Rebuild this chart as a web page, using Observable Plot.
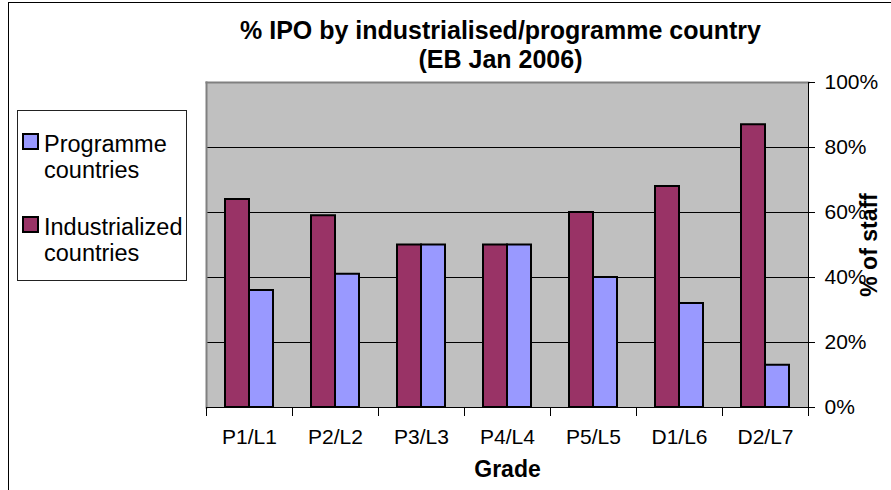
<!DOCTYPE html>
<html>
<head>
<meta charset="utf-8">
<script src="https://cdn.jsdelivr.net/npm/d3@7"></script>
<script src="https://cdn.jsdelivr.net/npm/@observablehq/plot@0.6"></script>
<style>
  html, body { margin: 0; padding: 0; background: #fff; overflow: hidden; }
  #wrap { position: relative; width: 891px; height: 490px; font-family: "Liberation Sans", Arial, sans-serif; }
  #wrap svg { position: absolute; left: 0; top: 0; }
  #border { position: absolute; left: 8px; top: 2px; width: 1000px; height: 1000px; border: 1px solid #000; pointer-events: none; }
  #legend { position: absolute; left: 17px; top: 110px; width: 168px; height: 169px; border: 1px solid #222; background: #fff;
            box-sizing: content-box; font-size: 23.5px; line-height: 26px; color: #000; }
  .item { position: relative; padding-left: 26px; width: 142px; }
  .item + .item { margin-top: 31px; }
  .item:first-child { margin-top: 20px; }
  .sw { position: absolute; left: 4px; top: 2px; width: 13px; height: 13px; border: 2px solid #000; }
</style>
</head>
<body>
<div id="wrap">
  <div id="chart"></div>
  <div id="border"></div>
  <div id="legend"></div>
</div>
<script>
const grades = ["P1/L1", "P2/L2", "P3/L3", "P4/L4", "P5/L5", "D1/L6", "D2/L7"];
const industrialized = [64, 59, 50, 50, 60, 68, 87];
const programme = [36, 41, 50, 50, 40, 32, 13];
const seriesNames = ["Industrialized countries", "Programme countries"];
const seriesColors = ["#993366", "#9999FF"];
const legendOrder = ["Programme countries", "Industrialized countries"];
const yTicks = [0, 20, 40, 60, 80, 100];
const gridTicks = [20, 40, 60, 80];
const titleText = "% IPO by industrialised/programme country\n(EB Jan 2006)";
const xTitle = "Grade";
const yTitle = "% of staff";

const data = grades.flatMap((g, i) => [
  {grade: g, series: seriesNames[0], value: industrialized[i]},
  {grade: g, series: seriesNames[1], value: programme[i]}
]);

const W = 891, H = 490, mt = 82, mb = 83, ml = 203, mr = 80;
const plotH = H - mt - mb;

const chart = Plot.plot({
  width: W, height: H,
  marginTop: mt, marginBottom: mb, marginLeft: ml, marginRight: mr,
  style: {fontFamily: '"Liberation Sans", Arial, sans-serif', fontSize: "21px", color: "#000", background: "transparent", overflow: "visible"},
  fx: {domain: grades, padding: 0, label: null},
  x: {domain: seriesNames, paddingInner: 0, paddingOuter: 0.75, axis: null},
  y: {domain: [0, 100], axis: null},
  color: {domain: seriesNames, range: seriesColors},
  marks: [
    Plot.frame({facet: "super", fill: "#C0C0C0", stroke: null}),
    Plot.gridY(gridTicks, {stroke: "#000", strokeOpacity: 1}),
    Plot.frame({facet: "super", anchor: "top", stroke: "#808080", strokeWidth: 2}),
    Plot.frame({facet: "super", anchor: "left", stroke: "#808080", strokeWidth: 2}),
    Plot.barY(data, {fx: "grade", x: "series", y: "value", fill: "series", stroke: "#000", strokeWidth: 2}),
    Plot.ruleY([0], {stroke: "#000"}),
    Plot.frame({anchor: "left", stroke: "#000", insetTop: plotH, insetBottom: -8}),
    Plot.frame({facet: "super", anchor: "right", stroke: "#000", insetBottom: -8}),
    Plot.axisY(yTicks, {anchor: "right", tickSize: 6, tickPadding: 10, tickFormat: d => d + "%", fontSize: 21, label: null}),
    Plot.axisFx({anchor: "bottom", tickSize: 0, tickPadding: 22, fontSize: 21, label: null}),
    Plot.text([titleText], {facet: "super", frameAnchor: "top", lineAnchor: "middle", textAnchor: "middle", dx: -7, dy: -38, fontSize: 25, fontWeight: "bold", lineHeight: 1.16}),
    Plot.text([xTitle], {facet: "super", frameAnchor: "bottom", lineAnchor: "middle", textAnchor: "middle", dy: 62, fontSize: 23, fontWeight: "bold"}),
    Plot.text([yTitle], {facet: "super", frameAnchor: "right", lineAnchor: "middle", textAnchor: "middle", dx: 61, rotate: -90, fontSize: 23, fontWeight: "bold"})
  ]
});
document.getElementById("chart").appendChild(chart);

const legend = document.getElementById("legend");
for (const name of legendOrder) {
  const item = document.createElement("div");
  item.className = "item";
  const sw = document.createElement("span");
  sw.className = "sw";
  sw.style.background = seriesColors[seriesNames.indexOf(name)];
  item.appendChild(sw);
  item.appendChild(document.createTextNode(name));
  legend.appendChild(item);
}
</script>
</body>
</html>
